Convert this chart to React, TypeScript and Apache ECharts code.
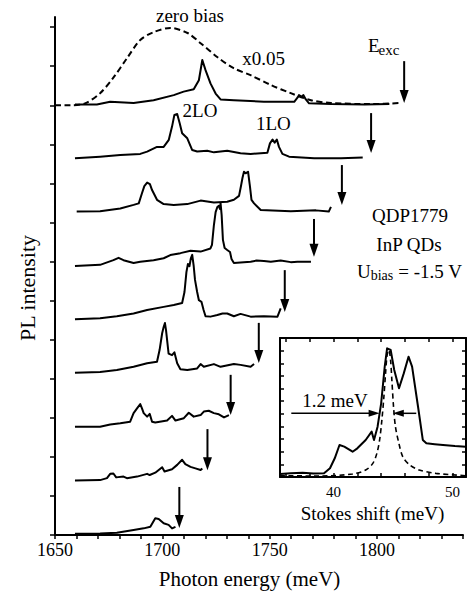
import React, { useEffect, useRef } from "react";
import * as echarts from "echarts";

// ---------- data ----------
// vertical offsets of the stacked spectra (axis units, top to bottom)
const offsets = [11, 9.625, 8.25, 6.875, 5.5, 4.125, 2.75, 1.375, 0];

// spectra: [photon energy (meV), intensity above own baseline]
const trace1 = [
  [1659.3, 0.02], [1669.5, 0.02], [1675.7, 0.09], [1686.6, 0.06], [1695.9, 0.13], [1705.3, 0.26],
  [1709.9, 0.35], [1714.6, 0.41], [1717.0, 0.64], [1718.6, 1.16], [1720.1, 0.9], [1722.4, 0.56],
  [1724.8, 0.3], [1727.1, 0.15], [1733.3, 0.13], [1747.3, 0.09], [1761.4, 0.09], [1763.0, 0.2],
  [1763.6, 0.26], [1764.8, 0.22], [1765.7, 0.26], [1766.8, 0.15], [1768.3, 0.05], [1778.5, 0.03],
  [1794.1, 0.02], [1805.7, 0.03],
];
const trace2 = [
  [1659.3, 0.02], [1671.0, 0.06], [1680.4, 0.1], [1689.7, 0.13], [1692.9, 0.19], [1697.5, 0.31],
  [1700.6, 0.31], [1703.0, 0.49], [1704.5, 0.83], [1705.6, 1.13], [1706.9, 1.15], [1708.1, 0.91],
  [1709.2, 0.66], [1711.6, 0.53], [1713.9, 0.23], [1716.2, 0.19], [1720.9, 0.21], [1724.0, 0.17],
  [1730.2, 0.21], [1736.4, 0.15], [1741.1, 0.13], [1748.9, 0.16], [1750.1, 0.4], [1751.3, 0.5],
  [1752.3, 0.42], [1753.3, 0.5], [1754.3, 0.31], [1755.9, 0.13], [1759.0, 0.06], [1770.7, 0.02],
  [1783.2, 0.02], [1793.3, 0.04],
];
const trace3 = [
  [1660.1, 0.03], [1671.0, 0.04], [1680.4, 0.11], [1686.6, 0.2], [1689.0, 0.24], [1690.5, 0.5],
  [1691.6, 0.68], [1692.9, 0.77], [1694.2, 0.73], [1695.2, 0.58], [1697.5, 0.33], [1700.6, 0.22],
  [1705.3, 0.2], [1711.6, 0.22], [1717.8, 0.31], [1724.0, 0.26], [1730.2, 0.28], [1733.3, 0.33],
  [1735.7, 0.43], [1736.7, 0.71], [1737.3, 0.89], [1738.0, 1.05], [1738.8, 1.01], [1739.5, 1.03],
  [1739.9, 1.05], [1740.8, 0.67], [1741.5, 0.33], [1742.7, 0.24], [1745.8, 0.07], [1759.8, 0.04],
  [1771.5, 0.06], [1777.5, 0.03], [1778.5, 0.15],
];
const trace4 = [
  [1659.3, 0.01], [1671.0, 0.04], [1677.2, 0.16], [1679.6, 0.22], [1681.9, 0.16], [1686.6, 0.09],
  [1689.7, 0.12], [1695.9, 0.16], [1700.6, 0.21], [1703.7, 0.29], [1708.4, 0.34], [1713.1, 0.4],
  [1717.8, 0.38], [1722.4, 0.46], [1723.1, 0.55], [1724.0, 1.06], [1724.8, 1.39], [1725.6, 1.52],
  [1726.3, 1.55], [1726.8, 1.47], [1727.1, 1.62], [1727.6, 1.32], [1728.2, 0.68], [1729.0, 0.47],
  [1730.2, 0.42], [1731.5, 0.37], [1732.2, 0.19], [1733.3, 0.09], [1736.4, 0.1], [1741.1, 0.12],
  [1743.9, 0.15], [1747.3, 0.14], [1750.5, 0.12], [1755.1, 0.15], [1759.8, 0.11], [1762.9, 0.12],
  [1769.2, 0.12],
];
const trace5 = [
  [1659.3, 0.02], [1671.0, 0.05], [1678.8, 0.1], [1686.6, 0.17], [1692.9, 0.26], [1700.6, 0.34],
  [1705.3, 0.39], [1709.2, 0.44], [1710.3, 0.72], [1711.2, 1.23], [1711.9, 1.44], [1712.6, 1.38],
  [1713.3, 1.59], [1713.9, 1.67], [1714.6, 1.38], [1715.2, 1.03], [1716.2, 0.72], [1717.0, 0.51],
  [1718.2, 0.47], [1719.2, 0.26], [1720.1, 0.1], [1722.4, 0.09], [1725.6, 0.13], [1728.0, 0.17],
  [1730.2, 0.17], [1733.3, 0.1], [1736.4, 0.16], [1741.1, 0.09], [1747.3, 0.1], [1753.6, 0.09],
  [1755.1, 0.3],
];
const trace6 = [
  [1659.3, 0.03], [1671.0, 0.05], [1678.8, 0.1], [1686.6, 0.18], [1692.9, 0.27], [1697.5, 0.31],
  [1698.7, 0.61], [1699.9, 1.04], [1700.6, 1.2], [1701.2, 1.3], [1701.7, 1.12], [1702.9, 0.52],
  [1704.5, 0.48], [1705.6, 0.55], [1706.9, 0.27], [1708.4, 0.12], [1711.6, 0.1], [1716.2, 0.14],
  [1717.8, 0.25], [1719.3, 0.18], [1724.0, 0.25], [1727.1, 0.18], [1733.3, 0.25], [1736.4, 0.23],
  [1741.1, 0.18], [1742.7, 0.25],
];
const trace7 = [
  [1659.3, 0.02], [1671.0, 0.02], [1675.7, 0.08], [1680.4, 0.11], [1685.0, 0.15], [1686.6, 0.37],
  [1688.2, 0.49], [1689.7, 0.6], [1690.5, 0.49], [1691.3, 0.37], [1692.9, 0.28], [1694.1, 0.35],
  [1695.2, 0.15], [1696.7, 0.13], [1702.2, 0.18], [1704.5, 0.3], [1706.1, 0.18], [1710.0, 0.24],
  [1712.3, 0.38], [1714.6, 0.28], [1717.8, 0.32], [1719.3, 0.41], [1721.6, 0.43], [1724.0, 0.37],
  [1726.3, 0.34], [1728.7, 0.26], [1731.0, 0.32],
];
const trace8 = [
  [1659.3, 0.02], [1671.0, 0.03], [1674.2, 0.08], [1675.7, 0.19], [1677.2, 0.2], [1678.5, 0.1],
  [1681.9, 0.12], [1683.5, 0.08], [1688.2, 0.12], [1692.9, 0.19], [1694.1, 0.16], [1696.7, 0.22],
  [1699.9, 0.36], [1701.0, 0.25], [1704.5, 0.31], [1706.9, 0.42], [1709.2, 0.55], [1710.7, 0.44],
  [1713.1, 0.37], [1715.4, 0.33], [1717.8, 0.29], [1718.6, 0.33],
];
const trace9 = [
  [1659.3, 0.03], [1671.0, 0.04], [1678.8, 0.06], [1686.6, 0.13], [1691.3, 0.17], [1694.4, 0.21],
  [1696.7, 0.43], [1698.3, 0.41], [1700.6, 0.3], [1702.9, 0.26], [1704.5, 0.17], [1706.1, 0.21],
];
const traces = [trace1, trace2, trace3, trace4, trace5, trace6, trace7, trace8, trace9];

// zero-bias spectrum (x0.05), drawn on the top baseline
const zeroBias = [
  [1650, 0], [1657, 0], [1664.0, 0.05], [1671.0, 0.31], [1677.1, 0.7], [1683.6, 1.21], [1689.7, 1.67],
  [1695.8, 1.87], [1703.7, 1.98], [1711.7, 1.85], [1717.8, 1.59], [1725.7, 1.23], [1733.2, 0.95],
  [1741.1, 0.77], [1750.5, 0.52], [1759.8, 0.31], [1769.2, 0.13], [1778.5, 0.06], [1797.2, 0.03],
  [1811.2, 0.06],
];

// excitation energies (arrows): energy, arrow tip, arrow tail (axis units)
const excitationEnergy = [1812.6, 1797.2, 1783.6, 1770.6, 1757.0, 1744.9, 1731.8, 1721.0, 1707.9];
const arrowTip = [11.06, 9.78, 8.45, 7.12, 5.71, 4.4, 3.07, 1.66, 0.18];
const arrowTail = [12.13, 10.8, 9.47, 8.09, 6.78, 5.43, 4.1, 2.71, 1.23];

// main axis ticks
const xTickLabels = [1650, 1700, 1750, 1800];
const xTicks = [1650, 1660, 1670, 1680, 1690, 1700, 1710, 1720, 1730, 1740, 1750, 1760, 1770, 1780, 1790, 1800, 1810, 1820, 1830, 1840];
const yTicks = [0, 1, 2, 3, 4, 5, 6, 7, 8, 9, 10, 11, 12, 13];

// inset: Stokes shift (meV) vs intensity
const insetSpectrum = [
  [35.5, 0.24], [36.4, 0.3], [37.4, 0.34], [38.3, 0.27], [39.2, 0.29], [39.7, 0.69], [40.1, 1.48],
  [40.5, 2.53], [40.9, 2.4], [41.6, 2.0], [42.0, 2.27], [42.7, 2.93], [43.2, 3.59], [43.4, 2.93],
  [43.7, 3.98], [44.0, 5.83], [44.3, 8.73], [44.5, 10.18], [44.8, 10.05], [45.1, 8.47], [45.5, 7.02],
  [45.9, 8.2], [46.3, 9.52], [46.6, 8.73], [47.1, 5.56], [47.5, 2.93], [47.8, 2.67], [48.5, 2.6],
  [49.2, 2.53], [50.2, 2.45], [51.1, 2.4],
];
const insetLaser = [
  [35.5, 0.1], [38.8, 0.08], [41.6, 0.24], [42.7, 0.55], [43.3, 1.08], [43.64, 1.87], [43.87, 2.93],
  [44.06, 4.5], [44.23, 6.35], [44.37, 8.2], [44.5, 9.65], [44.65, 10.05], [44.79, 9.26], [44.9, 7.67],
  [45.04, 5.56], [45.2, 3.98], [45.49, 2.67], [45.82, 1.6], [46.4, 0.95], [47.2, 0.55], [48.6, 0.29],
  [51.1, 0.1],
];
// FWHM markers: from, to (arrow tip), level
const fwhmArrows = [
  [36.45, 43.87, 5.04],
  [46.95, 44.98, 5.04],
];
const insetXTicks = [36, 38, 40, 42, 44, 46, 48, 50];
const insetXLabels = [40, 50];
const insetYTicks = [1, 2, 3, 4, 5, 6, 7, 8, 9, 10];

const SERIF = "'Liberation Serif', 'Times New Roman', serif";

function txt(text: string, x: number, y: number, size: number, extra: any = {}) {
  return {
    type: "text",
    x,
    y,
    z: 100,
    ...extra,
    style: {
      text,
      fontSize: size,
      fontFamily: SERIF,
      fill: "#000",
      align: "center",
      textAlign: "center",
      verticalAlign: "middle",
      textVerticalAlign: "middle",
      ...(extra.style || {}),
    },
  };
}

const plain = (v: number) => String(v);

export default function App() {
  const ref = useRef<HTMLDivElement>(null);

  useEffect(() => {
    document.body.style.margin = "0";
    const chart = echarts.init(ref.current!, null, { renderer: "svg" });

    const lineSeries: any[] = traces.map((t, i) => ({
      type: "line",
      xAxisIndex: 0,
      yAxisIndex: 0,
      showSymbol: false,
      symbol: "none",
      data: t.map(([e, v]) => [e, v + offsets[i]]),
      lineStyle: { color: "#000", width: 2, join: "round" },
      silent: true,
      z: 3,
    }));

    const vArrow = (params: any, api: any) => {
      const pTip = api.coord([api.value(0), api.value(1)]);
      const pTail = api.coord([api.value(0), api.value(2)]);
      const hl = 13;
      const hw = 4.5;
      return {
        type: "group",
        children: [
          {
            type: "line",
            shape: { x1: pTail[0], y1: pTail[1], x2: pTip[0], y2: pTip[1] - hl + 2 },
            style: { stroke: "#000", lineWidth: 2 },
          },
          {
            type: "polygon",
            shape: { points: [[pTip[0] - hw, pTip[1] - hl], [pTip[0] + hw, pTip[1] - hl], [pTip[0], pTip[1]]] },
            style: { fill: "#000" },
          },
        ],
      };
    };

    const hArrow = (params: any, api: any) => {
      const pFrom = api.coord([api.value(0), api.value(2)]);
      const pTo = api.coord([api.value(1), api.value(2)]);
      const dir = pTo[0] > pFrom[0] ? 1 : -1;
      const hl = 11;
      const hw = 3.5;
      return {
        type: "group",
        children: [
          {
            type: "line",
            shape: { x1: pFrom[0], y1: pFrom[1], x2: pTo[0] - dir * (hl - 2), y2: pTo[1] },
            style: { stroke: "#000", lineWidth: 1.5 },
          },
          {
            type: "polygon",
            shape: {
              points: [[pTo[0] - dir * hl, pTo[1] - hw], [pTo[0] - dir * hl, pTo[1] + hw], [pTo[0], pTo[1]]],
            },
            style: { fill: "#000" },
          },
        ],
      };
    };

    const axisBase = {
      splitLine: { show: false },
      splitArea: { show: false },
    };

    const option: any = {
      animation: false,
      backgroundColor: "#fff",
      textStyle: { fontFamily: SERIF },
      grid: [
        { left: 55, top: 17, right: 5, bottom: 60, containLabel: false, outerBoundsMode: "none" },
        { left: 280, top: 338, width: 186, height: 139, containLabel: false, outerBoundsMode: "none" },
      ],
      xAxis: [
        {
          ...axisBase,
          gridIndex: 0,
          type: "value",
          min: 1650,
          max: 1840,
          position: "bottom",
          axisLine: { show: true, onZero: false, lineStyle: { color: "#000", width: 2 } },
          axisTick: { show: true, inside: false, length: 4, customValues: xTicks, lineStyle: { color: "#000", width: 1.5 } },
          axisLabel: {
            show: true,
            customValues: xTickLabels,
            formatter: plain,
            fontSize: 18,
            fontFamily: SERIF,
            color: "#000",
            margin: 6,
          },
        },
        {
          ...axisBase,
          gridIndex: 1,
          type: "value",
          min: 35.5,
          max: 51.13,
          position: "bottom",
          axisLine: { show: true, onZero: false, lineStyle: { color: "#000", width: 2 } },
          axisTick: { show: true, inside: true, length: 4, customValues: insetXTicks, lineStyle: { color: "#000", width: 1.5 } },
          axisLabel: {
            show: true,
            customValues: insetXLabels,
            formatter: plain,
            fontSize: 15,
            fontFamily: SERIF,
            color: "#000",
            margin: 7,
          },
        },
        {
          ...axisBase,
          gridIndex: 1,
          type: "value",
          min: 35.5,
          max: 51.13,
          position: "top",
          axisLine: { show: true, onZero: false, lineStyle: { color: "#000", width: 2 } },
          axisTick: { show: true, inside: true, length: 4, customValues: insetXTicks, lineStyle: { color: "#000", width: 1.5 } },
          axisLabel: { show: false },
        },
      ],
      yAxis: [
        {
          ...axisBase,
          gridIndex: 0,
          type: "value",
          min: 0,
          max: 13.26,
          position: "left",
          axisLine: { show: true, onZero: false, lineStyle: { color: "#000", width: 2 } },
          axisTick: { show: true, inside: false, length: 5, customValues: yTicks, lineStyle: { color: "#000", width: 1.5 } },
          axisLabel: { show: false },
        },
        {
          ...axisBase,
          gridIndex: 1,
          type: "value",
          min: 0,
          max: 11,
          position: "left",
          axisLine: { show: true, onZero: false, lineStyle: { color: "#000", width: 2 } },
          axisTick: { show: true, inside: true, length: 4, customValues: insetYTicks, lineStyle: { color: "#000", width: 1.5 } },
          axisLabel: { show: false },
        },
        {
          ...axisBase,
          gridIndex: 1,
          type: "value",
          min: 0,
          max: 11,
          position: "right",
          axisLine: { show: true, onZero: false, lineStyle: { color: "#000", width: 2 } },
          axisTick: { show: true, inside: true, length: 4, customValues: insetYTicks, lineStyle: { color: "#000", width: 1.5 } },
          axisLabel: { show: false },
        },
      ],
      series: [
        ...lineSeries,
        {
          type: "line",
          xAxisIndex: 0,
          yAxisIndex: 0,
          showSymbol: false,
          symbol: "none",
          smooth: 0.3,
          data: zeroBias.map(([e, v]) => [e, v + offsets[0]]),
          lineStyle: { color: "#000", width: 2, type: [6, 3.5] },
          silent: true,
          z: 2,
        },
        {
          type: "custom",
          xAxisIndex: 0,
          yAxisIndex: 0,
          renderItem: vArrow,
          encode: { x: 0, y: [1, 2] },
          data: excitationEnergy.map((e, i) => [e, arrowTip[i], arrowTail[i]]),
          silent: true,
          z: 4,
        },
        {
          type: "line",
          xAxisIndex: 1,
          yAxisIndex: 1,
          showSymbol: false,
          symbol: "none",
          data: insetSpectrum,
          lineStyle: { color: "#000", width: 2, join: "round" },
          silent: true,
          z: 3,
        },
        {
          type: "line",
          xAxisIndex: 1,
          yAxisIndex: 1,
          showSymbol: false,
          symbol: "none",
          smooth: 0.3,
          data: insetLaser,
          lineStyle: { color: "#000", width: 1.6, type: [5, 3.5] },
          silent: true,
          z: 3,
        },
        {
          type: "custom",
          xAxisIndex: 1,
          yAxisIndex: 1,
          renderItem: hArrow,
          encode: { x: [0, 1], y: 2 },
          data: fwhmArrows,
          silent: true,
          z: 4,
        },
      ],
      graphic: [
        txt("zero bias", 190, 15.6, 19),
        txt("x0.05", 263.5, 58.6, 19),
        txt("2LO", 200, 110.3, 19),
        txt("1LO", 273.3, 123.6, 19),
        txt("E", 368, 45.3, 19, { style: { align: "left", textAlign: "left" } }),
        txt("exc", 378.5, 50.4, 15, { style: { align: "left", textAlign: "left" } }),
        txt("QDP1779", 410, 215.6, 19),
        txt("InP QDs", 409, 244.6, 19),
        {
          type: "text",
          x: 409.5,
          y: 271.6,
          z: 100,
          style: {
            text: "{n|U}{s|bias}{n| = -1.5 V}",
            align: "center",
            textAlign: "center",
            verticalAlign: "middle",
            textVerticalAlign: "middle",
            fontFamily: SERIF,
            fill: "#000",
            rich: {
              n: { fontSize: 19, fontFamily: SERIF, color: "#000", lineHeight: 22 },
              s: { fontSize: 14, fontFamily: SERIF, color: "#000", lineHeight: 12, verticalAlign: "bottom" },
            },
          },
        },
        txt("1.2 meV", 335, 400.3, 19),
        txt("Stokes shift (meV)", 372.5, 513, 19),
        txt("Photon energy (meV)", 249.5, 579, 21),
        txt("PL intensity", 27, 288, 22, { rotation: Math.PI / 2 }),
      ],
    };

    chart.setOption(option);
    return () => chart.dispose();
  }, []);

  return <div ref={ref} style={{ width: 468, height: 595 }} />;
}
